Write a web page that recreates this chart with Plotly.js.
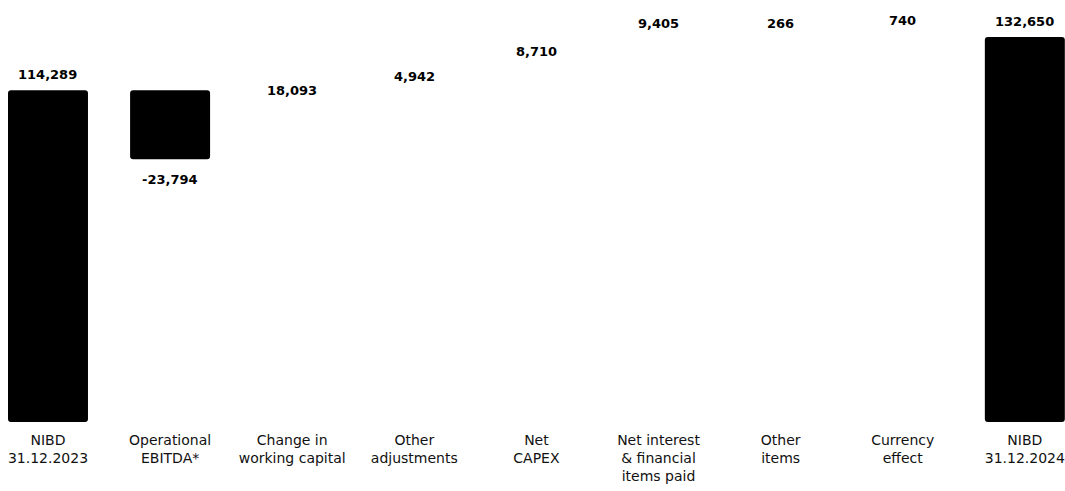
<!DOCTYPE html>
<html>
<head>
<meta charset="utf-8">
<script src="https://cdn.plot.ly/plotly-3.0.1.min.js"></script>
<style>html,body{margin:0;padding:0;background:#fff;}#chart{width:1065px;height:491px;}</style>
</head>
<body>
<div id="chart"></div>
<script>
const categories = ["NIBD<br>31.12.2023", "Operational<br>EBITDA*", "Change in<br>working capital", "Other<br>adjustments", "Net<br>CAPEX", "Net interest<br>& financial<br>items paid", "Other<br>items", "Currency<br>effect", "NIBD<br>31.12.2024"];
const values = [114289, -23794, 18093, 4942, 8710, 9405, 266, 740, 132650];
const measures = ["absolute", "relative", "relative", "relative", "relative", "relative", "relative", "relative", "total"];

// build bar bases from running total
const bases = [], heights = [], colors = [];
let run = 0;
values.forEach((v, i) => {
  if (measures[i] === "absolute" || measures[i] === "total") {
    bases.push(0); heights.push(v); run = v; colors.push("#000000");
  } else {
    bases.push(run); heights.push(v); run += v;
    colors.push(v < 0 ? "#000000" : "rgba(255,255,255,0)");
  }
});
const labels = values.map(v => v.toLocaleString("en-US"));

const trace = {
  type: "bar",
  x: categories,
  y: heights,
  base: bases,
  marker: {color: colors, line: {width: 0}},
  hoverinfo: "skip"
};

const annotations = categories.map((c, i) => ({
  x: c,
  y: bases[i] + heights[i],
  xref: "x", yref: "y",
  text: labels[i],
  showarrow: false,
  yanchor: "middle",
  yshift: values[i] < 0 ? -20 : 16,
  font: {family: "DejaVu Sans", size: 13, color: "#000", weight: "bold"}
}));

const layout = {
  width: 1065, height: 491,
  margin: {l: 0, r: 0, t: 0, b: 69},
  paper_bgcolor: "#fff", plot_bgcolor: "#fff",
  showlegend: false,
  bargap: 0.345,
  barcornerradius: 3,
  annotations: annotations,
  xaxis: {
    type: "category",
    range: [-0.393, 8.329],
    showgrid: false, zeroline: false, showline: false, ticks: "",
    tickfont: {family: "DejaVu Sans", size: 14, color: "#111"},
    ticklabelstandoff: 8
  },
  yaxis: {
    range: [0, 145397],
    visible: false, showgrid: false, zeroline: false
  }
};
Plotly.newPlot("chart", [trace], layout, {displayModeBar: false, staticPlot: true});
</script>
</body>
</html>
